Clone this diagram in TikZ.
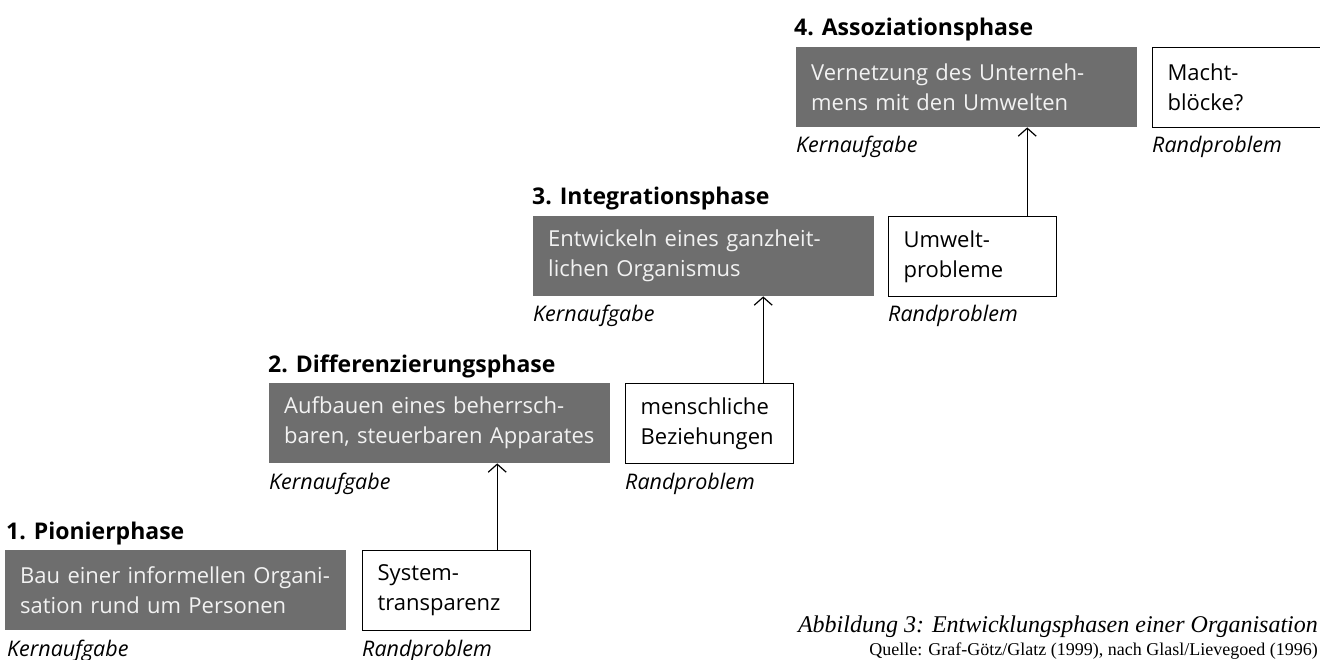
\documentclass[tikz,border=0pt]{standalone}
\usepackage{fontspec}
\newfontfamily\sansf{Open Sans}
\newfontfamily\capf{Liberation Serif}
\usetikzlibrary{arrows.meta}
\definecolor{coregray}{HTML}{6E6E6E}
\definecolor{coretext}{HTML}{F2F2F2}
\begin{document}
\begin{tikzpicture}[x=1pt,y=-1pt,
  core/.style={fill=coregray, text=coretext, anchor=north west, minimum width=341pt,
    minimum height=80pt, text width=311pt, inner xsep=15pt, inner ysep=0pt, align=left,
    font=\sansf\fontsize{22}{30}\selectfont},
  rand/.style={draw=black, line width=1.2pt, fill=white, anchor=north west, minimum width=168pt,
    minimum height=80pt, text width=138pt, inner xsep=15pt, inner ysep=0pt, align=left,
    font=\sansf\fontsize{22}{30}\selectfont},
  phase/.style={anchor=base west, inner sep=0pt, font=\sansf\bfseries\fontsize{23}{24}\selectfont},
  lbl/.style={anchor=base west, inner sep=0pt, font=\sansf\itshape\fontsize{21.5}{24}\selectfont},
  arr/.style={line width=1.2pt, -{Straight Barb[length=8pt,width=18pt,line width=1.2pt]}}
]
\useasboundingbox (0,0) rectangle (1320,660);
% phase 1
\node[phase] (t1) at (6,539) {1. Pionierphase};
\node[core] (g1) at (5,550) {\mbox{Bau einer informellen Organi-}\\\mbox{sation rund um Personen}};
\node[rand] (w1) at (362,550) {\mbox{System-}\\\mbox{transparenz}};
\node[lbl] (k1) at (7,656) {Kernaufgabe};
\node[lbl] (r1) at (362,656) {Randproblem};
% phase 2
\node[phase] (t2) at (268,372) {2. Differenzierungsphase};
\node[core] (g2) at (269,383) {\mbox{Aufbauen eines beherrsch-}\\\mbox{baren, steuerbaren Apparates}};
\node[rand] (w2) at (625,383) {\mbox{menschliche}\\\mbox{Beziehungen}};
\node[lbl] (k2) at (269,489) {Kernaufgabe};
\node[lbl] (r2) at (625,489) {Randproblem};
% phase 3
\node[phase] (t3) at (532,205) {3. Integrationsphase};
\node[core] (g3) at (533,216) {\mbox{Entwickeln eines ganzheit-}\\\mbox{lichen Organismus}};
\node[rand] (w3) at (888,216) {\mbox{Umwelt-}\\\mbox{probleme}};
\node[lbl] (k3) at (533,322) {Kernaufgabe};
\node[lbl] (r3) at (888,322) {Randproblem};
% phase 4
\node[phase] (t4) at (794,36) {4. Assoziationsphase};
\node[core] (g4) at (796,47) {\mbox{Vernetzung des Unterneh-}\\\mbox{mens mit den Umwelten}};
\node[rand] (w4) at (1152,47) {\mbox{Macht-}\\\mbox{blöcke?}};
\node[lbl] (k4) at (796,153) {Kernaufgabe};
\node[lbl] (r4) at (1152,153) {Randproblem};
% arrows
\draw[arr] ([xshift=-34pt]w1.north east) -- ([xshift=-34pt]w1.north east |- g2.south);
\draw[arr] ([xshift=-31pt]w2.north east) -- ([xshift=-31pt]w2.north east |- g3.south);
\draw[arr] ([xshift=-30pt]w3.north east) -- ([xshift=-30pt]w3.north east |- g4.south);
% caption
\node[anchor=base east, inner sep=0pt, font=\capf\itshape\fontsize{24}{26}\selectfont] (cap) at (1318,632) {Abbildung 3: Entwicklungsphasen einer Organisation};
\node[anchor=base east, inner sep=0pt, font=\capf\fontsize{18}{20}\selectfont] (src) at (1318,655) {Quelle: Graf-Götz/Glatz (1999), nach Glasl/Lievegoed (1996)};
\end{tikzpicture}
\end{document}
